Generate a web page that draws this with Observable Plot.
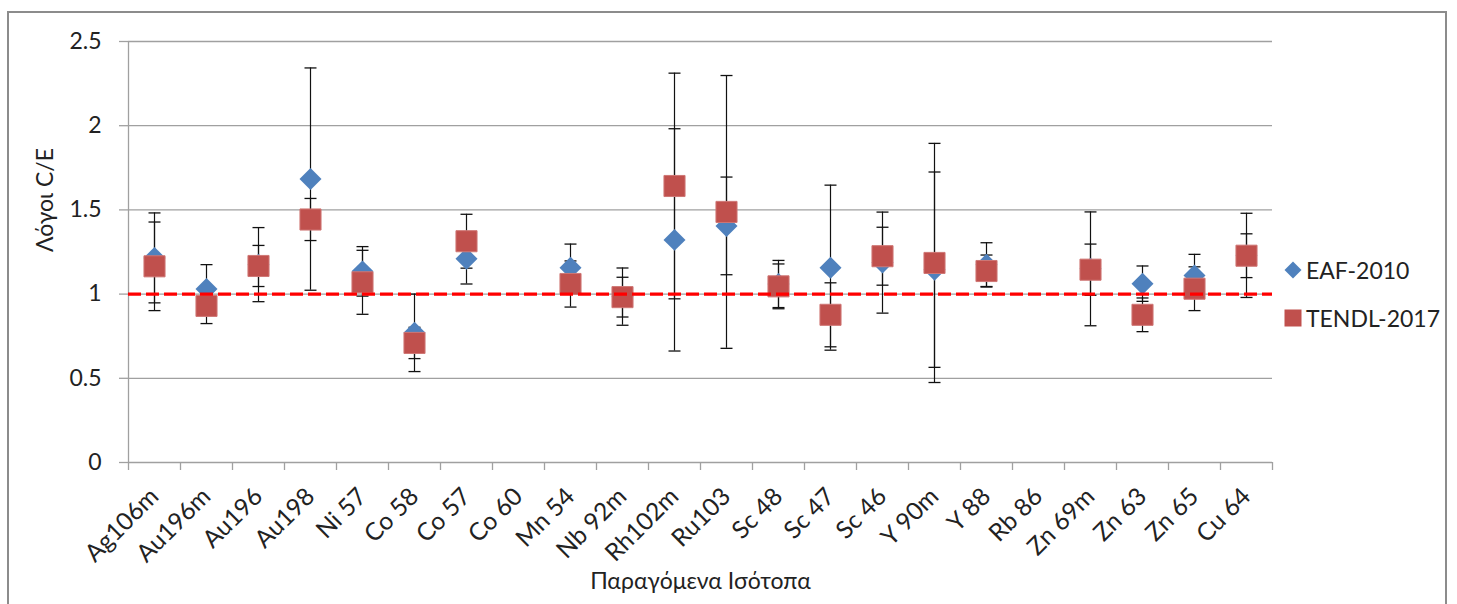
<!DOCTYPE html>
<html>
<head>
<meta charset="utf-8">
<script src="https://cdn.jsdelivr.net/npm/d3@7"></script>
<script src="https://cdn.jsdelivr.net/npm/@observablehq/plot@0.6"></script>
<style>
  body { margin: 0; background: #fff; }
  #wrap { position: relative; width: 1457px; height: 604px; overflow: hidden; font-family: Lato, "Open Sans", sans-serif; }
  #border { position: absolute; left: 7px; top: 11px; width: 1440px; height: 640px; border: 2px solid #8c8c8c; box-sizing: border-box; }
  #chart { position: absolute; left: 0; top: 0; }
  .leg { position: absolute; left: 1284px; display: flex; align-items: center; font-size: 23px; color: #222; }
  .leg svg { margin-right: 4px; }
</style>
</head>
<body>
<div id="wrap">
  <div id="border"></div>
  <div id="chart"></div>
  <div class="leg" style="top:256px"><svg width="18" height="18"><path d="M9,0.5L17.5,9L9,17.5L0.5,9Z" fill="#4F81BD"/></svg>EAF-2010</div>
  <div class="leg" style="top:304px"><svg width="18" height="18"><rect x="0.5" y="0.5" width="17" height="17" fill="#C0504D"/></svg>TENDL-2017</div>
</div>
<script>
const categories = ["Ag106m","Au196m","Au196","Au198","Ni 57","Co 58","Co 57","Co 60","Mn 54","Nb 92m","Rh102m","Ru103","Sc 48","Sc 47","Sc 46","Y 90m","Y 88","Rb 86","Zn 69m","Zn 63","Zn 65","Cu 64"];
const eafValues   = [1.215,1.03,1.175,1.683,1.135,0.77,1.21,null,1.157,0.985,1.322,1.405,1.06,1.157,1.187,1.145,1.175,null,1.15,1.062,1.111,1.23];
const eafErrors   = [0.267,0.145,0.22,0.66,0.147,0.23,0.15,null,0.14,0.17,0.66,0.29,0.14,0.49,0.3,0.58,0.13,null,0.338,0.105,0.125,0.25];
const tendlValues = [1.165,0.93,1.167,1.443,1.07,0.71,1.314,null,1.06,0.982,1.642,1.488,1.046,0.877,1.225,1.185,1.137,null,1.145,0.877,1.032,1.228];
const tendlErrors = [0.263,0.105,0.122,0.125,0.19,0.093,0.16,null,0.137,0.118,0.67,0.81,0.133,0.19,0.172,0.71,0.095,null,0.152,0.1,0.13,0.13];
const yTicks = [0, 0.5, 1, 1.5, 2, 2.5];
const reference = [1];

function rows(values, errors) {
  return categories.map((c, i) => ({cat: c, i: i + 0.5, v: values[i], lo: values[i] == null ? null : values[i] - errors[i], hi: values[i] == null ? null : values[i] + errors[i]}))
    .filter(d => d.v != null);
}
const eaf = rows(eafValues, eafErrors);
const tendl = rows(tendlValues, tendlErrors);
const allRows = eaf.concat(tendl);
const labelRows = categories.map((c, i) => ({cat: c, i: i + 0.5}));

const cap = { draw(ctx) { ctx.moveTo(-6, 0); ctx.lineTo(6, 0); } };
const grey = "#a0a0a0";

const chart = Plot.plot({
  width: 1457,
  height: 604,
  marginLeft: 128,
  marginRight: 185,
  marginTop: 41,
  marginBottom: 142,
  style: { fontFamily: "Lato, 'Open Sans', sans-serif", fontSize: "22px", color: "#222", background: "transparent" },
  x: { domain: [0, categories.length] },
  y: { domain: [0, 2.5] },
  marks: [
    Plot.gridY(yTicks.slice(1), { stroke: grey, strokeOpacity: 1, strokeWidth: 1.3 }),
    Plot.axisY({ ticks: yTicks, tickFormat: d => String(d), tickSize: 9, tickPadding: 18, stroke: grey, strokeWidth: 1.3, fill: "#222", fontSize: 23, label: null }),
    Plot.ruleX([0], { y1: 0, y2: 2.5, stroke: grey, strokeWidth: 1.3 }),
    Plot.ruleY([0], { stroke: grey, strokeWidth: 1.3 }),
    Plot.axisX({ ticks: d3.range(0, categories.length + 1), tickSize: 8, tickFormat: () => "", stroke: grey, strokeWidth: 1.3, label: null }),
    Plot.text(labelRows, { x: "i", y: () => 0, text: "cat", rotate: -45, textAnchor: "end", dx: 0, dy: 30, fontSize: 24.5, fill: "#222" }),
    Plot.ruleX(allRows, { x: "i", y1: "lo", y2: "hi", stroke: "#111", strokeWidth: 1.2 }),
    Plot.dot(allRows, { x: "i", y: "lo", symbol: cap, r: 5, stroke: "#111", strokeWidth: 1.3, fill: "none" }),
    Plot.dot(allRows, { x: "i", y: "hi", symbol: cap, r: 5, stroke: "#111", strokeWidth: 1.3, fill: "none" }),
    Plot.dot(eaf, { x: "i", y: "v", symbol: "diamond2", r: 9.9, fill: "#4F81BD", stroke: "none" }),
    Plot.dot(tendl, { x: "i", y: "v", symbol: "square", r: 11.9, fill: "#C0504D", stroke: "#cf7775", strokeWidth: 1 }),
    Plot.ruleY(reference, { stroke: "#FF0000", strokeWidth: 3.2, strokeDasharray: "13,5" }),
    Plot.text(["Λόγοι C/E"], { text: d => d, frameAnchor: "left", rotate: -90, dx: -83, fontSize: 23, fill: "#222" }),
    Plot.text(["Παραγόμενα Ισότοπα"], { text: d => d, frameAnchor: "bottom", dy: 126, fontSize: 23, fill: "#222" })
  ]
});
document.getElementById("chart").appendChild(chart);
</script>
</body>
</html>
